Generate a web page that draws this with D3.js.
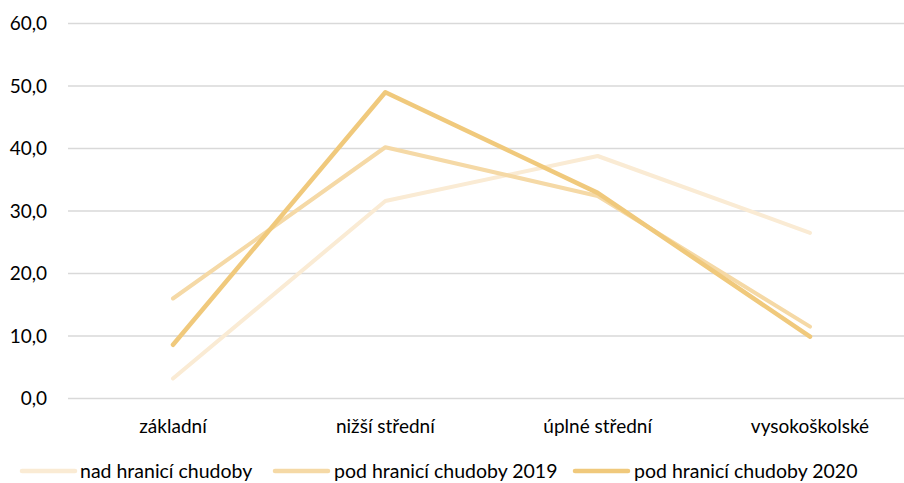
<!DOCTYPE html>
<html><head><meta charset="utf-8">
<script src="https://cdn.jsdelivr.net/npm/d3@7"></script>
<style>body{margin:0;background:#fff}svg{display:block}text{font-family:Lato,"Open Sans",sans-serif;fill:#000}</style>
</head><body><svg id="c" width="904" height="483"></svg>
<script>
const categories = ["základní","nižší střední","úplné střední","vysokoškolské"];
const seriesNames = ["nad hranicí chudoby","pod hranicí chudoby 2019","pod hranicí chudoby 2020"];
const nadValues = [3.2, 31.6, 38.8, 26.5];
const pod2019Values = [16.0, 40.2, 32.4, 11.5];
const pod2020Values = [8.6, 49.0, 32.9, 9.9];
const yTicks = [0,10,20,30,40,50,60];
const colors = ["#FAEBD4","#F5D9A6","#F0C97C"];

const svg = d3.select("#c");
const x = d3.scalePoint().domain(categories).range([173,810]);
const y = d3.scaleLinear().domain([0,60]).range([398.5,23.5]);

const grid = svg.append("g");
grid.selectAll("line").data(yTicks).join("line")
  .attr("x1",68).attr("x2",904).attr("y1",d=>y(d)).attr("y2",d=>y(d))
  .attr("stroke","#d9d9d9").attr("stroke-width",1.5);
svg.append("g").selectAll("text").data(yTicks).join("text")
  .attr("x",47).attr("y",d=>y(d)).attr("dy","0.35em").attr("text-anchor","end")
  .attr("font-size",19).text(d=>d.toFixed(1).replace(".",","));
svg.append("g").selectAll("text").data(categories).join("text")
  .attr("x",d=>x(d)).attr("y",433).attr("text-anchor","middle")
  .attr("font-size",19).text(d=>d);

const all = [nadValues,pod2019Values,pod2020Values];
const line = d3.line().x((d,i)=>x(categories[i])).y(d=>y(d));
svg.append("g").selectAll("path").data(all).join("path")
  .attr("d",d=>line(d)).attr("fill","none")
  .attr("stroke",(d,i)=>colors[i]).attr("stroke-width",(d,i)=>i==2?4.5:4)
  .attr("stroke-linecap","round").attr("stroke-linejoin","round");

const legX = [22,275,575];
const leg = svg.append("g").selectAll("g").data(seriesNames).join("g")
  .attr("transform",(d,i)=>`translate(${legX[i]},471)`);
leg.append("line").attr("x1",0).attr("x2",53).attr("y1",0).attr("y2",0)
  .attr("stroke",(d,i)=>colors[i]).attr("stroke-width",4.5).attr("stroke-linecap","round");
leg.append("text").attr("x",(d,i)=>i==0?58:59).attr("dy","0.35em").attr("font-size",19.5).text(d=>d);
</script></body></html>
